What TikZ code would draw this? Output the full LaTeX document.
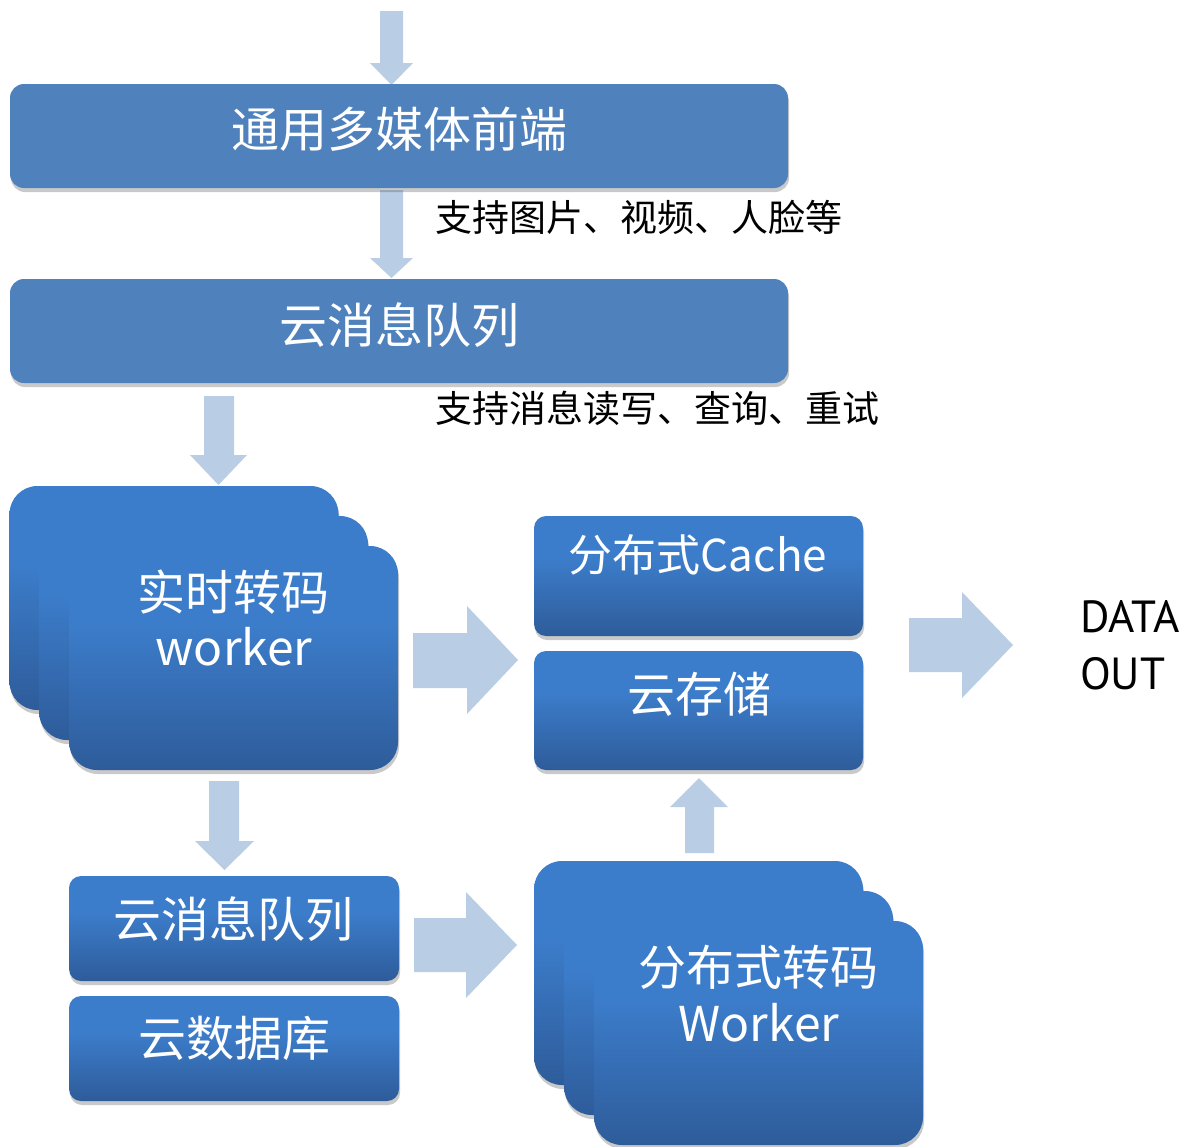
\documentclass[tikz,border=0pt]{standalone}
\usepackage{fontspec}
\setmainfont{Noto Sans}
\newfontfamily\cjk{Noto Sans CJK SC}
\newfontfamily\ptsans{PT Sans}
\usetikzlibrary{shadows}

\definecolor{flatblue}{RGB}{79,129,189}
\definecolor{blight}{RGB}{60,125,203}
\definecolor{bdark}{RGB}{46,92,154}
\definecolor{arrowblue}{RGB}{185,205,229}

% light at the top, darkening towards the bottom edge
\pgfdeclareverticalshading{boxshade}{100bp}{color(0bp)=(bdark); color(25bp)=(bdark); color(58bp)=(blight); color(100bp)=(blight)}

\begin{document}
\begin{tikzpicture}[x=1pt,y=-1pt,
  softshadow/.style={drop shadow={opacity=.3, shadow xshift=1pt, shadow yshift=-4pt, fill=black!70}},
  flatbox/.style={fill=flatblue, rounded corners=14pt, inner sep=0, minimum width=778pt, minimum height=104pt, softshadow},
  gradbox/.style={shading=boxshade, inner sep=0, softshadow},
  smallbox/.style={gradbox, rounded corners=12pt, minimum width=329pt, minimum height=120pt},
  dbbox/.style={gradbox, rounded corners=12pt, minimum width=330pt, minimum height=105pt},
  stackbox/.style={gradbox, rounded corners=28pt, minimum width=329pt, minimum height=224pt},
  bigtext/.style={text=white, font=\cjk\fontsize{48}{56}\selectfont, inner sep=0},
  note/.style={text=black, font=\cjk\fontsize{37}{44}\selectfont, inner sep=0, anchor=west},
  outtext/.style={font=\ptsans\fontsize{45}{52}\selectfont, anchor=base west, inner sep=0},
  blockarrow/.style={fill=arrowblue, draw=none}]

\useasboundingbox (0,0) rectangle (1183,1146);

% block arrows
\fill[blockarrow] (380,11) -- (403,11) -- (403,63) -- (413,63) -- (391.5,85) -- (370,63) -- (380,63) -- cycle;
\fill[blockarrow] (380,190) -- (403,190) -- (403,258) -- (413,258) -- (391.5,278) -- (370,258) -- (380,258) -- cycle;
\fill[blockarrow] (204,396) -- (234,396) -- (234,455) -- (247,455) -- (218.5,485) -- (190,455) -- (204,455) -- cycle;
\fill[blockarrow] (209,781) -- (239,781) -- (239,841) -- (254,841) -- (224.5,870) -- (195,841) -- (209,841) -- cycle;
\fill[blockarrow] (413,633) -- (467,633) -- (467,606) -- (518,660) -- (467,714) -- (467,688) -- (413,688) -- cycle;
\fill[blockarrow] (909,618) -- (962,618) -- (962,592) -- (1013,645) -- (962,698) -- (962,672) -- (909,672) -- cycle;
\fill[blockarrow] (414,918) -- (466,918) -- (466,892) -- (517,945) -- (466,998) -- (466,972) -- (414,972) -- cycle;
\fill[blockarrow] (685,853) -- (714,853) -- (714,807) -- (728,807) -- (699,778) -- (670,807) -- (685,807) -- cycle;

% top stage
\node[flatbox] (front) at (399,136) {};
\node[flatbox] (queue) at (399,331) {};
\node[bigtext] (frontlbl) at (399,129) {通用多媒体前端};
\node[bigtext] (queuelbl) at (399,325) {云消息队列};
\node[note] (note1) at (435,217) {支持图片、视频、人脸等};
\node[note] (note2) at (435,408) {支持消息读写、查询、重试};

% real-time transcoding workers
\node[stackbox] (rt3) at (174,598) {};
\node[stackbox] (rt2) at (203.5,628) {};
\node[stackbox] (rt1) at (233.5,658) {};
\node[bigtext] (rtlbl) at (233,592) {实时转码};
\node[bigtext, anchor=base] (rtsub) at (234,665) {worker};

% cache and storage
\node[smallbox] (cache) at (698.5,576) {};
\node[smallbox, minimum height=119pt] (store) at (698.5,710.5) {};
\node[bigtext, font=\cjk\fontsize{44}{52}\selectfont] (cachelbl) at (698,555) {分布式Cache};
\node[bigtext] (storelbl) at (699,694) {云存储};

% output
\node[outtext] (out1) at (1080,632) {DATA};
\node[outtext] (out2) at (1080,689) {OUT};

% queue and database
\node[dbbox] (queue2) at (234,928.5) {};
\node[dbbox] (db) at (234,1048.5) {};
\node[bigtext] (queue2lbl) at (233,919) {云消息队列};
\node[bigtext] (dblbl) at (234,1038) {云数据库};

% distributed transcoding workers
\node[stackbox] (dt3) at (698.5,973) {};
\node[stackbox] (dt2) at (728.5,1003) {};
\node[stackbox] (dt1) at (758.5,1033) {};
\node[bigtext] (dtlbl) at (758,967) {分布式转码};
\node[bigtext, anchor=base] (dtsub) at (759,1041) {Worker};

\end{tikzpicture}
\end{document}
